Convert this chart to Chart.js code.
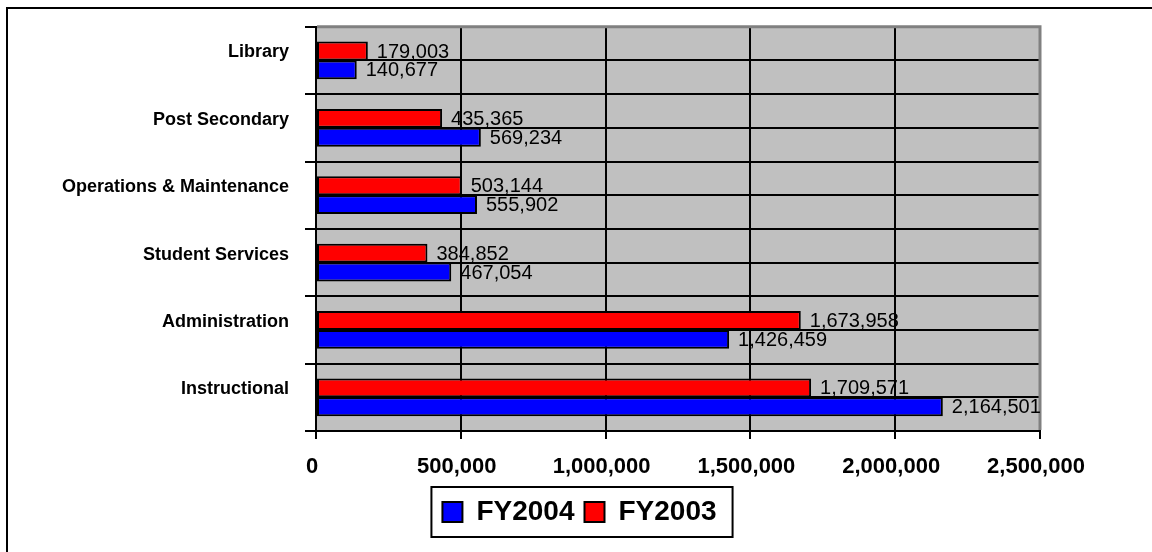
<!DOCTYPE html>
<html>
<head>
<meta charset="utf-8">
<script src="https://cdn.jsdelivr.net/npm/chart.js@4.4.0/dist/chart.umd.min.js"></script>
<style>
  html, body { margin: 0; padding: 0; background: #fff; }
  #wrap { width: 1152px; height: 552px; }
</style>
</head>
<body>
<div id="wrap"><canvas id="chart" width="1152" height="552"></canvas></div>
<script>
const categories = ['Library', 'Post Secondary', 'Operations & Maintenance', 'Student Services', 'Administration', 'Instructional'];
const fy2003 = [179003, 435365, 503144, 384852, 1673958, 1709571];
const fy2004 = [140677, 569234, 555902, 467054, 1426459, 2164501];
const xMax = 2500000;
const xStep = 500000;

const FONT = '"Liberation Sans", Arial, sans-serif';
const fmt = (v) => v.toLocaleString('en-US');

// white page, top/left frame, grey plot area
const framePlugin = {
  id: 'frame',
  beforeDraw(chart) {
    const { ctx, chartArea: a } = chart;
    ctx.save();
    ctx.fillStyle = '#fff';
    ctx.fillRect(0, 0, chart.width, chart.height);
    ctx.fillStyle = '#c0c0c0';
    ctx.fillRect(a.left, a.top, a.right - a.left, a.bottom - a.top);
    ctx.strokeStyle = '#000';
    ctx.lineWidth = 2;
    ctx.beginPath();
    ctx.moveTo(7, chart.height);
    ctx.lineTo(7, 8);
    ctx.lineTo(chart.width, 8);
    ctx.stroke();
    ctx.restore();
  },
  beforeDatasetsDraw(chart) {
    const { ctx, chartArea: a } = chart;
    const y = chart.scales.y;
    ctx.save();
    // lines through the middle of each category
    ctx.strokeStyle = '#000';
    ctx.lineWidth = 2;
    categories.forEach((c, i) => {
      const py = Math.round(y.getPixelForValue(i));
      ctx.beginPath();
      ctx.moveTo(a.left, py);
      ctx.lineTo(a.right, py);
      ctx.stroke();
    });
    ctx.strokeStyle = '#808080';
    ctx.lineWidth = 3;
    ctx.beginPath();
    ctx.moveTo(a.left + 1, a.top);
    ctx.lineTo(a.right, a.top);
    ctx.lineTo(a.right, a.bottom - 1);
    ctx.stroke();
    ctx.restore();
  },
};

const valueLabels = {
  id: 'valueLabels',
  afterDatasetsDraw(chart) {
    const { ctx } = chart;
    ctx.save();
    ctx.font = '20px ' + FONT;
    ctx.fillStyle = '#000';
    ctx.textAlign = 'left';
    ctx.textBaseline = 'middle';
    chart.data.datasets.forEach((ds, di) => {
      chart.getDatasetMeta(di).data.forEach((bar, i) => {
        ctx.fillText(fmt(ds.data[i]), bar.x + 9, bar.y + 1);
      });
    });
    ctx.restore();
  },
};

const legendBox = {
  id: 'legendBox',
  afterDraw(chart) {
    const boxes = chart.legend.legendHitBoxes;
    if (!boxes || !boxes.length) return;
    const left = Math.min(...boxes.map((b) => b.left)) - 11;
    const right = Math.max(...boxes.map((b) => b.left + b.width)) + 16;
    const top = boxes[0].top - 11;
    const bottom = boxes[0].top + boxes[0].height + 11;
    const { ctx } = chart;
    ctx.save();
    ctx.strokeStyle = '#000';
    ctx.lineWidth = 2;
    ctx.strokeRect(left, top, right - left, bottom - top);
    ctx.restore();
  },
};

new Chart(document.getElementById('chart'), {
  type: 'bar',
  data: {
    labels: categories,
    datasets: [
      {
        label: 'FY2003',
        data: fy2003,
        backgroundColor: '#ff0000',
        borderColor: '#000',
        borderWidth: 2,
        borderSkipped: false,
      },
      {
        label: 'FY2004',
        data: fy2004,
        backgroundColor: '#0000ff',
        borderColor: '#000',
        borderWidth: 2,
        borderSkipped: false,
      },
    ],
  },
  options: {
    indexAxis: 'y',
    responsive: false,
    animation: false,
    categoryPercentage: 0.56,
    barPercentage: 1,
    layout: { padding: { left: 7, top: 25, right: 0, bottom: 16 } },
    scales: {
      x: {
        type: 'linear',
        min: 0,
        max: xMax,
        afterFit: (s) => { s.height = 57; },
        grid: { color: '#000', lineWidth: 2, tickLength: 8 },
        border: { color: '#000', width: 2 },
        ticks: {
          stepSize: xStep,
          padding: 15,
          labelOffset: -4,
          color: '#000',
          font: { family: FONT, size: 22, weight: 'bold' },
          callback: (v) => fmt(v),
        },
      },
      y: {
        type: 'category',
        afterFit: (s) => { s.width = 309; },
        grid: { color: '#000', lineWidth: 2, tickLength: 11, offset: true },
        border: { color: '#000', width: 2 },
        ticks: {
          padding: 16,
          labelOffset: -8,
          color: '#000',
          font: { family: FONT, size: 18, weight: 'bold' },
        },
      },
      // empty right-hand axis, only keeps the white margin right of the plot
      yRight: {
        type: 'category',
        position: 'right',
        afterFit: (s) => { s.width = 112; },
        grid: { display: false },
        border: { display: false },
        ticks: { display: false },
      },
    },
    plugins: {
      tooltip: { enabled: false },
      legend: {
        position: 'bottom',
        reverse: true,
        labels: {
          boxWidth: 20,
          boxHeight: 20,
          padding: 10,
          color: '#000',
          font: { family: FONT, size: 28, weight: 'bold' },
        },
      },
    },
  },
  plugins: [framePlugin, valueLabels, legendBox],
});
</script>
</body>
</html>
